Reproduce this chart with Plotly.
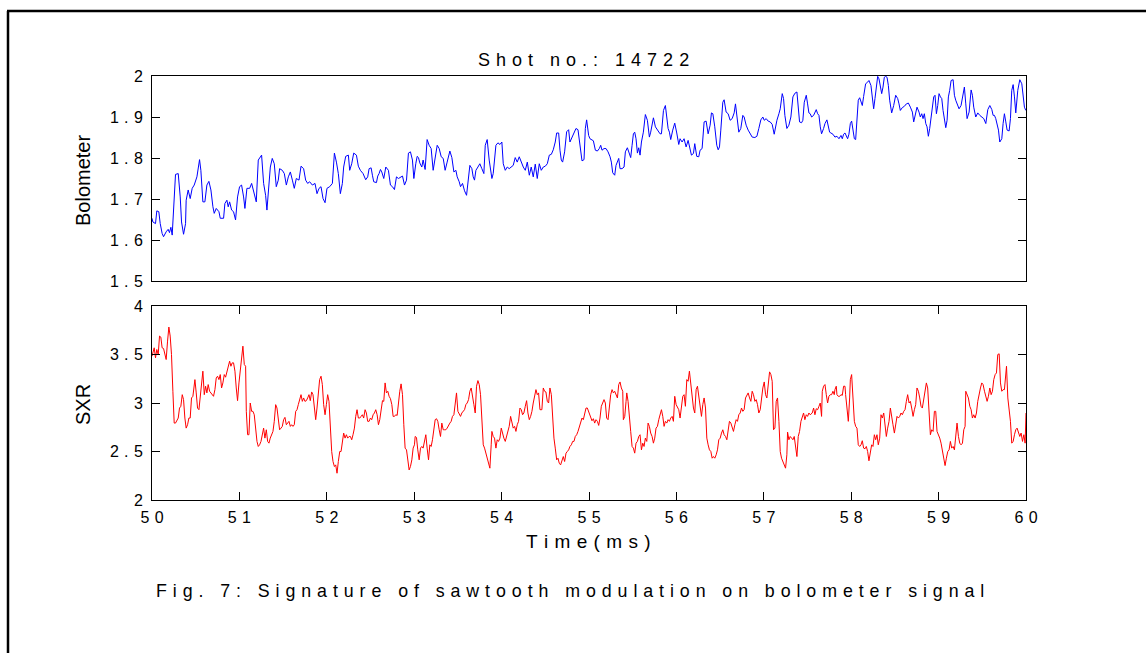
import plotly.graph_objects as go

# ---------------- data ----------------
bolo_t = [
 50.000,50.010,50.040,50.055,50.078,50.094,50.116,50.132,50.162,50.185,
 50.200,50.216,50.231,50.254,50.269,50.300,50.323,50.338,50.361,50.384,
 50.391,50.414,50.437,50.460,50.483,50.514,50.544,50.559,50.582,50.605,
 50.628,50.651,50.674,50.697,50.712,50.735,50.766,50.781,50.819,50.834,
 50.857,50.872,50.888,50.911,50.933,50.956,50.979,51.002,51.025,51.048,
 51.063,51.086,51.117,51.140,51.163,51.193,51.216,51.254,51.277,51.300,
 51.315,51.331,51.354,51.376,51.399,51.422,51.445,51.460,51.491,51.514,
 51.537,51.560,51.583,51.606,51.628,51.651,51.682,51.705,51.735,51.758,
 51.781,51.804,51.835,51.865,51.888,51.911,51.934,51.957,51.980,52.002,
 52.033,52.064,52.087,52.110,52.132,52.155,52.178,52.193,52.216,52.247,
 52.262,52.285,52.308,52.339,52.361,52.384,52.415,52.445,52.468,52.484,
 52.507,52.522,52.537,52.568,52.583,52.598,52.614,52.629,52.652,52.675,
 52.705,52.728,52.751,52.774,52.797,52.820,52.843,52.866,52.889,52.912,
 52.934,52.957,52.980,52.996,53.018,53.034,53.049,53.064,53.087,53.102,
 53.125,53.148,53.171,53.194,53.217,53.240,53.263,53.286,53.309,53.332,
 53.354,53.377,53.408,53.431,53.454,53.477,53.492,53.515,53.530,53.553,
 53.576,53.599,53.614,53.637,53.660,53.675,53.690,53.706,53.729,53.751,
 53.774,53.797,53.813,53.835,53.858,53.874,53.889,53.904,53.919,53.935,
 53.958,53.981,54.003,54.019,54.042,54.065,54.087,54.110,54.133,54.156,
 54.179,54.202,54.225,54.248,54.271,54.294,54.317,54.339,54.362,54.385,
 54.408,54.431,54.454,54.477,54.500,54.523,54.546,54.569,54.591,54.614,
 54.630,54.653,54.668,54.683,54.698,54.721,54.744,54.767,54.782,54.805,
 54.828,54.851,54.874,54.897,54.920,54.943,54.958,54.973,54.996,55.011,
 55.034,55.050,55.073,55.096,55.118,55.134,55.149,55.172,55.195,55.218,
 55.241,55.256,55.271,55.294,55.309,55.325,55.340,55.355,55.378,55.401,
 55.416,55.439,55.462,55.477,55.493,55.508,55.523,55.538,55.554,55.569,
 55.584,55.600,55.622,55.645,55.668,55.691,55.706,55.722,55.737,55.760,
 55.783,55.813,55.829,55.852,55.874,55.890,55.905,55.920,55.935,55.958,
 55.981,56.004,56.027,56.042,56.065,56.088,56.111,56.134,56.157,56.172,
 56.195,56.210,56.233,56.256,56.271,56.294,56.317,56.340,56.363,56.386,
 56.401,56.417,56.439,56.462,56.478,56.493,56.508,56.531,56.546,56.569,
 56.592,56.615,56.638,56.661,56.676,56.691,56.714,56.737,56.760,56.775,
 56.798,56.821,56.844,56.867,56.898,56.921,56.943,56.966,56.989,57.005,
 57.027,57.050,57.073,57.096,57.119,57.134,57.150,57.173,57.188,57.211,
 57.226,57.241,57.264,57.287,57.310,57.333,57.356,57.379,57.394,57.409,
 57.432,57.447,57.463,57.486,57.501,57.516,57.531,
 57.547,57.570,57.585,57.600,57.616,57.631,57.646,57.661,57.684,57.700,
 57.722,57.738,57.753,57.768,57.791,57.814,57.837,57.860,57.883,57.898,
 57.913,57.929,57.944,57.959,57.974,57.990,58.005,58.020,58.036,58.051,
 58.066,58.081,58.097,58.112,58.127,58.142,58.165,58.188,58.203,58.226,
 58.242,58.257,58.272,58.288,58.303,58.318,58.333,58.349,58.364,58.379,
 58.394,58.410,58.425,58.440,58.463,58.486,58.509,58.532,58.547,58.562,
 58.585,58.608,58.631,58.654,58.677,58.700,58.715,58.730,58.753,58.776,
 58.791,58.807,58.822,58.837,58.853,58.868,58.883,58.898,58.914,58.929,
 58.944,58.959,58.975,58.990,59.005,59.021,59.036,59.051,59.066,59.082,
 59.097,59.112,59.127,59.143,59.166,59.181,59.196,59.211,59.234,59.257,
 59.280,59.295,59.311,59.326,59.349,59.372,59.387,59.402,59.425,59.448,
 59.471,59.494,59.517,59.540,59.563,59.586,59.609,59.624,59.639,59.654,
 59.670,59.685,59.700,59.723,59.738,59.753,59.769,59.784,59.807,59.822,
 59.837,59.853,59.868,59.883,59.906,59.929,59.952,59.967,59.982,59.998,
]
bolo_v = [
 1.653,1.644,1.640,1.671,1.669,1.640,1.616,1.608,1.620,1.626,
 1.618,1.631,1.612,1.717,1.760,1.762,1.705,1.644,1.614,1.640,
 1.697,1.722,1.701,1.726,1.734,1.754,1.796,1.770,1.693,1.693,
 1.734,1.743,1.722,1.681,1.665,1.677,1.669,1.653,1.653,1.689,
 1.697,1.681,1.693,1.673,1.669,1.649,1.705,1.730,1.734,1.705,
 1.677,1.726,1.726,1.738,1.717,1.693,1.795,1.807,1.738,1.709,
 1.673,1.713,1.778,1.799,1.786,1.730,1.746,1.774,1.770,1.762,
 1.734,1.754,1.766,1.746,1.726,1.750,1.746,1.780,1.774,1.746,
 1.738,1.742,1.734,1.738,1.713,1.726,1.730,1.701,1.691,1.726,
 1.730,1.738,1.812,1.790,1.762,1.713,1.738,1.778,1.804,1.807,
 1.770,1.786,1.812,1.807,1.780,1.770,1.762,1.747,1.754,1.774,
 1.776,1.758,1.742,1.740,1.756,1.762,1.772,1.766,1.750,1.778,
 1.770,1.734,1.730,1.723,1.754,1.750,1.754,1.756,1.734,1.746,
 1.812,1.815,1.795,1.750,1.786,1.804,1.801,1.788,1.778,1.795,
 1.772,1.845,1.831,1.823,1.770,1.807,1.831,1.823,1.803,1.799,
 1.770,1.790,1.817,1.801,1.766,1.770,1.754,1.742,1.730,1.738,
 1.720,1.709,1.742,1.782,1.774,1.754,1.746,1.770,1.778,1.786,
 1.774,1.762,1.831,1.845,1.795,1.766,1.750,1.762,1.803,1.831,
 1.837,1.833,1.839,1.786,1.770,1.778,1.774,1.778,1.782,1.801,
 1.790,1.803,1.790,1.778,1.770,1.790,1.758,1.778,1.754,1.785,
 1.750,1.786,1.770,1.778,1.780,1.786,1.807,1.809,1.820,1.839,
 1.861,1.861,1.819,1.795,1.790,1.815,1.864,1.869,1.839,1.851,
 1.864,1.872,1.869,1.827,1.793,1.796,1.872,1.893,1.855,1.847,
 1.843,1.842,1.819,1.817,1.823,1.831,1.819,1.823,1.823,1.815,
 1.803,1.790,1.764,1.758,1.782,1.793,1.799,1.774,1.774,1.778,
 1.815,1.825,1.809,1.801,1.831,1.859,1.863,1.847,1.812,1.825,
 1.807,1.839,1.863,1.906,1.892,1.851,1.863,1.888,1.898,1.876,
 1.868,1.859,1.859,1.916,1.928,1.896,1.872,1.863,1.845,1.868,
 1.885,1.861,1.833,1.847,1.839,1.847,1.827,1.843,1.825,1.807,
 1.811,1.835,1.804,1.803,1.819,1.823,1.888,1.890,1.859,1.880,
 1.910,1.908,1.876,1.831,1.820,1.827,1.868,1.936,1.942,1.912,
 1.908,1.892,1.896,1.910,1.932,1.902,1.863,1.872,1.904,1.900,
 1.880,1.868,1.859,1.851,1.850,1.853,1.872,1.893,1.900,1.892,
 1.896,1.890,1.888,1.882,1.858,1.880,1.892,1.908,1.920,1.957,
 1.945,1.904,1.872,1.880,1.900,1.949,1.958,1.961,1.924,1.888,
 1.886,1.892,1.936,1.953,1.932,1.910,1.908,
 1.900,1.904,1.912,1.918,1.908,1.904,1.876,1.859,1.872,1.884,
 1.893,1.877,1.863,1.861,1.858,1.851,1.853,1.847,1.855,1.847,
 1.858,1.861,1.853,1.847,1.858,1.884,1.890,1.868,1.847,1.845,
 1.884,1.941,1.947,1.936,1.928,1.950,1.981,1.985,1.989,1.977,
 1.949,1.920,1.945,1.969,1.999,1.993,1.973,1.957,1.973,1.997,
 1.999,1.997,1.977,1.941,1.910,1.928,1.953,1.945,1.932,1.916,
 1.923,1.926,1.932,1.934,1.924,1.912,1.888,1.900,1.924,1.912,
 1.900,1.908,1.896,1.908,1.884,1.876,1.853,1.872,1.896,1.924,
 1.949,1.953,1.908,1.928,1.957,1.949,1.945,1.916,1.888,1.874,
 1.892,1.949,1.965,1.989,1.991,1.953,1.941,1.932,1.920,1.928,
 1.957,1.973,1.932,1.896,1.912,1.966,1.953,1.924,1.900,1.910,
 1.904,1.900,1.896,1.884,1.918,1.928,1.918,1.904,1.904,1.896,
 1.884,1.868,1.839,1.847,1.884,1.908,1.888,1.868,1.866,1.896,
 1.965,1.979,1.949,1.910,1.965,1.991,1.981,1.957,1.924,1.916,
]

sxr_t = [
 50.000,50.025,50.040,50.055,50.071,50.086,50.101,50.116,50.132,50.147,
 50.162,50.178,50.193,50.208,50.223,50.239,50.254,50.269,50.284,50.300,
 50.315,50.330,50.346,50.361,50.376,50.391,50.407,50.422,50.437,50.452,
 50.468,50.483,50.491,50.506,50.521,50.537,50.552,50.567,50.582,50.598,
 50.613,50.628,50.643,50.659,50.674,50.689,50.704,50.720,50.735,50.750,
 50.766,50.781,50.796,50.811,50.827,50.842,50.857,50.872,50.888,50.903,
 50.918,50.933,50.949,50.964,50.979,50.995,51.010,51.025,51.040,51.056,
 51.071,51.079,51.094,51.109,51.124,51.140,51.155,51.170,51.186,51.201,
 51.216,51.231,51.247,51.262,51.277,51.292,51.308,51.323,51.338,51.353,
 51.369,51.384,51.399,51.415,51.430,51.445,51.460,51.476,51.491,51.506,
 51.521,51.537,51.552,51.567,51.583,51.598,51.613,51.628,51.644,51.659,
 51.674,51.689,51.705,51.720,51.735,51.750,51.766,51.781,51.796,51.811,
 51.827,51.842,51.857,51.873,51.888,51.903,51.918,51.934,51.949,51.964,
 51.980,51.995,52.010,52.025,52.041,52.056,52.071,52.087,52.102,52.117,
 52.132,52.148,52.163,52.178,52.193,52.209,52.224,52.239,52.255,52.270,
 52.285,52.300,52.316,52.331,52.346,52.361,52.377,52.392,52.407,52.422,
 52.438,52.453,52.468,52.484,
 52.499,52.514,52.530,52.545,52.560,52.576,52.591,52.606,52.621,52.637,
 52.652,52.667,52.682,52.698,52.713,52.728,52.744,52.759,52.774,52.789,
 52.805,52.820,52.835,52.850,52.866,52.881,52.896,52.912,52.927,52.942,
 52.957,52.973,52.988,53.003,53.011,53.026,53.041,53.057,53.072,53.087,
 53.102,53.118,53.133,53.148,53.164,53.179,53.194,53.209,53.225,53.240,
 53.255,53.270,53.286,53.301,53.316,53.332,53.347,53.362,53.377,53.393,
 53.408,53.423,53.438,53.454,53.469,53.484,53.500,53.515,53.530,53.545,
 53.561,53.576,53.591,53.606,53.622,53.637,53.652,53.667,53.683,53.698,
 53.713,53.729,53.744,53.759,53.774,53.790,53.805,53.820,53.835,53.851,
 53.866,53.881,53.889,53.904,53.919,53.935,53.950,53.965,53.981,53.996,
 54.011,54.026,54.042,54.057,54.072,54.087,54.103,54.118,54.133,54.149,
 54.164,54.179,54.194,54.210,54.225,54.240,54.255,54.271,54.286,54.301,
 54.317,54.332,54.347,54.362,54.378,54.393,54.408,54.423,54.439,54.461,
 54.477,54.492,54.507,54.523,54.538,54.553,54.569,54.584,54.599,54.614,
 54.630,54.645,54.660,54.675,54.691,54.706,54.721,54.737,54.752,54.767,
 54.782,54.798,54.813,54.828,54.843,54.859,54.874,54.889,54.905,54.920,
 54.935,54.950,54.966,54.981,54.996,55.011,
 55.034,55.050,55.065,55.080,55.096,55.111,55.126,55.141,55.157,55.172,
 55.187,55.202,55.218,55.233,55.248,55.264,55.279,55.294,55.309,55.325,
 55.340,55.355,55.370,55.386,55.393,55.409,55.424,55.432,55.447,55.462,
 55.477,55.493,55.508,55.523,55.538,55.554,55.569,55.584,55.600,55.615,
 55.630,55.645,55.661,55.676,55.691,55.706,55.722,55.737,55.752,55.767,
 55.783,55.798,55.813,55.829,55.844,55.859,55.874,55.890,55.905,55.920,
 55.935,55.951,55.966,55.981,55.997,56.012,56.027,56.042,56.058,56.073,
 56.088,56.103,56.119,56.134,56.149,56.165,56.180,56.195,56.210,56.226,
 56.241,56.256,56.271,56.287,56.302,56.317,56.333,56.348,56.363,56.378,
 56.394,56.409,56.424,56.439,56.455,56.470,56.485,56.501,56.516,56.531,
 56.546,56.562,56.577,56.592,56.607,56.623,56.638,56.653,56.669,56.684,
 56.699,56.714,56.730,56.745,56.760,56.775,56.791,56.806,56.821,56.837,
 56.852,56.867,56.882,56.898,56.913,56.928,56.943,56.959,56.974,56.989,
 57.005,57.020,57.035,57.050,57.066,57.081,57.096,57.111,57.127,57.142,
 57.157,57.173,57.188,57.203,57.218,57.234,57.249,57.264,57.272,57.287,
 57.302,57.318,57.333,57.348,57.363,57.379,57.394,57.409,57.425,57.440,
 57.455,57.470,57.486,57.501,57.516,57.531,
 57.554,57.570,57.585,57.600,57.616,57.631,57.646,57.661,57.669,57.684,
 57.700,57.715,57.730,57.745,57.761,57.776,57.791,57.806,57.814,57.829,
 57.837,57.852,57.868,57.883,57.898,57.913,57.929,57.936,57.952,57.967,
 57.982,57.990,58.005,58.020,58.036,58.051,58.066,58.081,58.097,58.112,
 58.127,58.142,58.158,58.173,58.188,58.203,58.219,58.234,58.249,58.265,
 58.280,58.295,58.310,58.326,58.341,58.356,58.372,58.387,58.402,58.417,
 58.433,58.448,58.463,58.478,58.494,58.509,58.524,58.540,58.555,58.570,
 58.585,58.601,58.616,58.631,58.646,58.662,58.677,58.692,58.708,58.723,
 58.738,58.753,58.769,58.784,58.799,58.814,58.830,58.845,58.860,58.875,
 58.891,58.906,58.921,58.937,58.952,58.967,58.982,58.998,59.013,59.028,
 59.043,59.059,59.074,59.089,59.105,59.120,59.135,59.150,59.166,59.181,
 59.196,59.211,59.227,59.242,59.257,59.273,59.288,59.303,59.311,59.326,
 59.341,59.357,59.372,59.387,59.402,59.418,59.433,59.448,59.463,59.479,
 59.494,59.509,59.525,59.540,59.555,59.570,59.586,59.601,59.616,59.631,
 59.647,59.662,59.677,59.693,59.708,59.723,59.738,59.753,59.769,59.777,
 59.792,59.807,59.822,59.837,59.853,59.868,59.883,59.898,59.914,59.929,
 59.944,59.960,59.975,59.990,60.000,
]
sxr_v = [
 3.483,3.569,3.466,3.552,3.500,3.690,3.679,3.569,3.562,3.517,
 3.448,3.638,3.783,3.690,3.500,3.121,2.793,2.793,2.828,2.845,
 2.948,2.966,3.086,3.035,2.845,2.741,2.776,2.845,2.845,3.052,
 3.069,3.173,3.241,3.104,2.948,2.931,3.086,3.207,3.328,3.086,
 3.173,3.104,3.190,3.121,3.104,3.086,3.069,3.138,3.259,3.276,
 3.241,3.293,3.155,3.207,3.293,3.266,3.328,3.362,3.431,3.379,
 3.414,3.414,3.328,3.155,3.024,3.207,3.328,3.500,3.586,3.397,
 3.379,2.914,2.673,2.673,3.000,2.914,2.914,2.879,2.707,2.604,
 2.552,2.569,2.604,2.673,2.741,2.638,2.724,2.604,2.586,2.638,
 2.673,2.707,2.811,2.983,2.948,2.845,2.724,2.741,2.759,2.828,
 2.852,2.776,2.793,2.811,2.759,2.776,2.759,2.776,2.914,2.931,
 2.983,3.035,3.086,3.017,3.052,3.017,3.024,3.052,3.086,3.024,
 3.114,3.086,2.914,2.828,2.948,3.069,3.241,3.276,3.190,2.983,
 2.879,2.983,3.086,3.017,2.741,2.500,2.397,2.345,2.362,2.276,
 2.397,2.500,2.500,2.586,2.690,2.638,2.673,2.638,2.655,2.655,
 2.621,2.673,2.741,2.862,2.931,2.845,2.845,2.862,2.879,2.845,
 2.931,2.897,2.811,2.811,
 2.845,2.828,2.879,2.897,2.931,2.879,2.776,2.828,2.931,3.024,
 3.017,3.207,3.104,3.121,3.069,3.045,2.983,2.862,2.862,2.879,
 2.872,3.017,3.121,3.197,3.086,2.776,2.535,2.517,2.414,2.310,
 2.345,2.414,2.535,2.569,2.655,2.645,2.517,2.414,2.535,2.552,
 2.535,2.610,2.673,2.535,2.414,2.569,2.552,2.621,2.741,2.828,
 2.838,2.811,2.724,2.655,2.793,2.724,2.724,2.724,2.741,2.776,
 2.793,2.811,2.862,2.879,2.983,3.104,2.914,2.879,2.862,2.897,
 2.921,2.931,2.983,3.000,3.035,3.121,3.155,3.086,2.983,2.897,
 3.173,3.231,3.190,3.086,2.811,2.569,2.535,2.483,2.414,2.379,
 2.328,2.569,2.707,2.655,2.638,2.535,2.621,2.604,2.638,2.741,
 2.673,2.638,2.604,2.655,2.707,2.759,2.862,2.793,2.741,2.759,
 2.707,2.776,2.811,2.948,2.931,2.879,2.897,2.966,3.024,2.897,
 2.828,2.862,2.914,3.000,3.086,3.138,3.086,3.104,2.931,2.931,
 3.155,3.121,3.114,3.017,3.000,3.155,3.086,2.828,2.638,2.535,
 2.414,2.431,2.379,2.362,2.397,2.448,2.397,2.483,2.500,2.517,
 2.552,2.569,2.604,2.604,2.655,2.673,2.707,2.759,2.811,2.845,
 2.828,2.897,2.948,2.948,2.914,2.879,
 2.817,2.838,2.793,2.828,2.811,2.769,2.845,2.966,3.000,3.035,
 3.000,2.845,2.828,2.983,3.086,3.138,3.104,3.121,3.086,3.052,
 3.190,3.217,3.155,3.121,2.828,2.862,3.017,3.104,3.017,2.811,
 2.707,2.552,2.535,2.483,2.586,2.604,2.655,2.673,2.517,2.586,
 2.552,2.638,2.604,2.793,2.759,2.690,2.655,2.586,2.638,2.741,
 2.759,2.828,2.879,2.931,2.862,2.759,2.811,2.793,2.828,2.811,
 2.845,2.862,2.811,3.069,2.983,2.948,2.931,2.845,2.966,3.069,
 3.086,2.966,3.241,3.224,3.328,3.173,3.069,2.948,2.897,3.138,
 3.173,3.086,2.948,2.862,2.983,3.052,2.948,2.638,2.569,2.517,
 2.500,2.431,2.448,2.431,2.466,2.517,2.621,2.638,2.690,2.724,
 2.673,2.655,2.621,2.741,2.811,2.793,2.759,2.707,2.776,2.828,
 2.811,2.879,2.897,2.948,2.914,2.931,3.052,3.086,3.104,3.052,
 3.017,3.121,3.086,3.017,3.035,2.983,2.897,2.931,3.086,3.155,
 3.217,3.086,3.052,3.173,3.321,3.293,3.224,2.724,2.741,3.017,
 3.052,2.811,2.500,2.431,2.397,2.362,2.328,2.466,2.700,2.621,
 2.655,2.638,2.621,2.655,2.535,2.448,2.655,2.707,2.811,2.845,
 2.897,2.828,2.879,2.862,2.897,2.879,
 2.897,2.948,2.879,2.941,2.931,2.966,3.000,2.862,3.121,3.173,
 3.190,3.086,3.000,3.069,3.086,3.086,3.121,3.086,3.138,3.173,
 3.086,3.069,3.069,3.086,3.079,3.173,3.173,3.086,2.897,2.811,
 3.052,3.241,3.293,3.086,2.811,2.759,2.741,2.569,2.552,2.569,
 2.611,2.535,2.528,2.552,2.500,2.404,2.500,2.569,2.552,2.673,
 2.621,2.673,2.569,2.638,2.879,2.845,2.897,2.776,2.655,2.741,
 2.811,2.948,2.879,2.776,2.690,2.759,2.862,2.845,2.862,2.897,
 2.879,2.914,2.931,3.017,3.086,3.000,3.017,2.948,2.862,2.931,
 2.983,3.155,3.121,3.052,2.966,2.948,3.035,3.121,3.207,3.155,
 2.845,2.673,2.724,2.707,2.914,2.914,2.707,2.673,2.638,2.586,
 2.500,2.431,2.355,2.431,2.500,2.517,2.604,2.535,2.552,2.517,
 2.638,2.793,2.655,2.586,2.569,2.586,2.724,2.759,3.121,3.086,
 3.052,2.966,2.931,2.845,2.879,2.845,2.897,3.017,3.104,3.155,
 3.207,3.190,3.121,3.069,3.017,3.069,3.155,3.086,3.121,3.241,
 3.293,3.310,3.500,3.507,3.207,3.121,3.138,3.138,3.362,3.379,
 3.052,2.914,2.811,2.586,2.604,2.673,2.724,2.741,2.690,2.655,
 2.690,2.604,2.673,2.586,2.897,
]

assert len(bolo_t) == len(bolo_v), (len(bolo_t), len(bolo_v))
assert len(sxr_t) == len(sxr_v), (len(sxr_t), len(sxr_v))

x_ticks = [50, 51, 52, 53, 54, 55, 56, 57, 58, 59, 60]
x_tick_text = ["50", "51", "52", "53", "54", "55", "56", "57", "58", "59", "60"]
bolo_ticks = [1.5, 1.6, 1.7, 1.8, 1.9, 2.0]
bolo_tick_text = ["1.5", "1.6", "1.7", "1.8", "1.9", "2"]
sxr_ticks = [2, 2.5, 3, 3.5, 4]
sxr_tick_text = ["2", "2.5", "3", "3.5", "4"]

title_text = "Shot no.: 14722"
bolo_label = "Bolometer"
sxr_label = "SXR"
x_label = "Time(ms)"
caption_text = "Fig. 7: Signature of sawtooth modulation on bolometer signal"

# ---------------- layout helpers ----------------
W, H = 1146, 653
SP = "\u2004"   # three-per-em space: the wide letter spacing of the original


def spaced(s):
    return SP.join(list(s))


def px(x):
    return x / W


def py(y):
    return 1 - y / H


FONT = "Liberation Sans, Arial, sans-serif"

fig = go.Figure()
fig.add_trace(go.Scatter(x=bolo_t, y=bolo_v, mode="lines",
                         line=dict(color="#0000FF", width=1),
                         xaxis="x", yaxis="y", showlegend=False))
fig.add_trace(go.Scatter(x=sxr_t, y=sxr_v, mode="lines",
                         line=dict(color="#FF0000", width=1),
                         xaxis="x2", yaxis="y2", showlegend=False))

xdom = [px(152), px(1026)]
common = dict(showline=True, linecolor="black", linewidth=1, showgrid=False,
              zeroline=False, tickcolor="black", ticklen=8, tickwidth=1,
              automargin=False,
              tickfont=dict(family=FONT, size=16, color="black"))

fig.update_layout(
    width=W, height=H, autosize=False,
    margin=dict(l=0, r=0, t=0, b=0, pad=0, autoexpand=False),
    paper_bgcolor="white", plot_bgcolor="white",
    xaxis=dict(domain=xdom, anchor="y", range=[50, 60], mirror=True,
               ticks="", showticklabels=False, **common),
    yaxis=dict(domain=[py(281), py(76)], anchor="x", range=[1.5, 2],
               tickvals=bolo_ticks, ticktext=[spaced(t) for t in bolo_tick_text],
               ticks="inside", mirror="ticks", ticklabelstandoff=5, **common),
    xaxis2=dict(domain=xdom, anchor="y2", range=[50, 60],
                tickvals=x_ticks, ticktext=[spaced(t) for t in x_tick_text],
                ticks="inside", mirror="ticks", ticklabelstandoff=3, **common),
    yaxis2=dict(domain=[py(500), py(306)], anchor="x2", range=[2, 4],
                tickvals=sxr_ticks, ticktext=[spaced(t) for t in sxr_tick_text],
                ticks="inside", mirror="ticks", ticklabelstandoff=5, **common),
)


def label(x, y, text, size, angle=0):
    fig.add_annotation(x=px(x), y=py(y), xref="paper", yref="paper",
                       xanchor="center", yanchor="middle",
                       text=text, textangle=angle, showarrow=False,
                       font=dict(family=FONT, size=size, color="black"))


label(583, 60, spaced(title_text), 18)
label(83, 181, bolo_label, 20, -90)
label(83, 405, sxr_label, 20, -90)
label(588, 541, spaced(x_label), 19)
label(570, 591, spaced(caption_text), 17.8)

# page frame
fig.add_shape(type="line", xref="paper", yref="paper",
              x0=px(7), x1=1, y0=py(11), y1=py(11),
              line=dict(color="black", width=2.5))
fig.add_shape(type="line", xref="paper", yref="paper",
              x0=px(8), x1=px(8), y0=0, y1=py(11),
              line=dict(color="black", width=2.5))

fig.write_html(
    "out.html",
    config={"displayModeBar": False},
    post_script="document.body.style.margin='0';"
                "document.documentElement.style.overflow='hidden';"
                "document.body.style.overflow='hidden';",
)
